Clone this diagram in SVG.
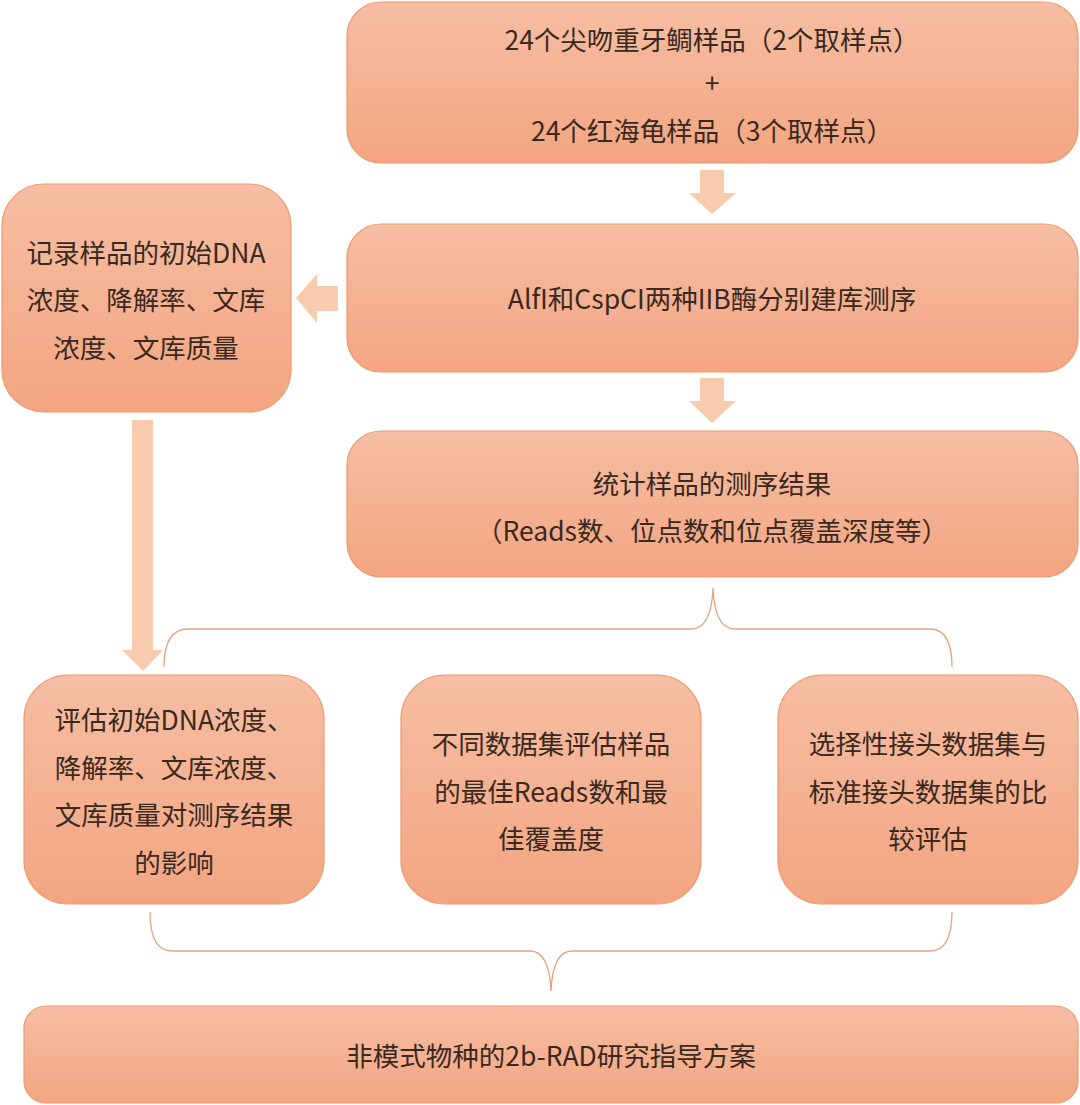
<svg xmlns="http://www.w3.org/2000/svg" width="1080" height="1105" viewBox="0 0 1080 1105">
<defs>
<linearGradient id="g" x1="0" y1="0" x2="0" y2="1">
<stop offset="0" stop-color="#F6BEA3"/>
<stop offset="1" stop-color="#F3A581"/>
</linearGradient>
<style>
.box{fill:url(#g);stroke:#EC9A6E;stroke-width:1.2}
.t{font-family:"Noto Sans CJK SC","Noto Sans",sans-serif;font-size:26.5px;fill:#3A2920;text-anchor:middle}
.arr{fill:#F7CBAD}
.brace{fill:none;stroke:#E2A47E;stroke-width:1.3}
</style>
</defs>
<rect width="1080" height="1105" fill="#FFFFFF"/>
<g id="connectors">
<polygon class="arr" points="700,170 724,170 724,193 736,193 712,214 689,193 700,193"/>
<polygon class="arr" points="700,378 724,378 724,401 736,401 712,423 689,401 700,401"/>
<polygon class="arr" points="338,286 317,286 317,274 296,298 317,323 317,311 338,311"/>
<polygon class="arr" points="132,420 153,420 153,650 163,650 143,671 122,650 132,650"/>
<path class="brace" d="M164,667 C164,645 170,629 188,629 L691,629 C706,629 712,612 713,588 C714,612 720,629 735,629 L930,629 C946,629 952,645 952,667"/>
<path class="brace" d="M150,912 C150,935 156,951 172,951 L530,951 C545,951 550,968 551,991 C552,968 557,951 572,951 L930,951 C946,951 952,935 952,912"/>
</g>
<g id="n1">
<rect class="box" x="347" y="2" width="731" height="161" rx="34"/>
<text class="t" x="712" y="50">24个尖吻重牙鲷样品（2个取样点）</text>
<text class="t" x="712" y="93">+</text>
<text class="t" x="712" y="141">24个红海龟样品（3个取样点）</text>
</g>
<g id="n2">
<rect class="box" x="347" y="224" width="731" height="148" rx="34"/>
<text class="t" x="712" y="309">AlfI和CspCI两种IIB酶分别建库测序</text>
</g>
<g id="n3">
<rect class="box" x="2" y="184" width="289" height="228" rx="42"/>
<text class="t" x="146" y="263">记录样品的初始DNA</text>
<text class="t" x="146" y="310">浓度、降解率、文库</text>
<text class="t" x="146" y="358">浓度、文库质量</text>
</g>
<g id="n4">
<rect class="box" x="347" y="431" width="731" height="146" rx="34"/>
<text class="t" x="712" y="494">统计样品的测序结果</text>
<text class="t" x="712" y="541">（Reads数、位点数和位点覆盖深度等）</text>
</g>
<g id="n5">
<rect class="box" x="24" y="675" width="300" height="229" rx="44"/>
<text class="t" x="174" y="730">评估初始DNA浓度、</text>
<text class="t" x="174" y="778">降解率、文库浓度、</text>
<text class="t" x="174" y="825">文库质量对测序结果</text>
<text class="t" x="174" y="873">的影响</text>
</g>
<g id="n6">
<rect class="box" x="401" y="675" width="300" height="229" rx="44"/>
<text class="t" x="551" y="754">不同数据集评估样品</text>
<text class="t" x="551" y="802">的最佳Reads数和最</text>
<text class="t" x="551" y="849">佳覆盖度</text>
</g>
<g id="n7">
<rect class="box" x="778" y="675" width="300" height="229" rx="44"/>
<text class="t" x="928" y="754">选择性接头数据集与</text>
<text class="t" x="928" y="802">标准接头数据集的比</text>
<text class="t" x="928" y="849">较评估</text>
</g>
<g id="n8">
<rect class="box" x="24" y="1006" width="1054" height="97" rx="22"/>
<text class="t" x="551" y="1066">非模式物种的2b-RAD研究指导方案</text>
</g>
</svg>
